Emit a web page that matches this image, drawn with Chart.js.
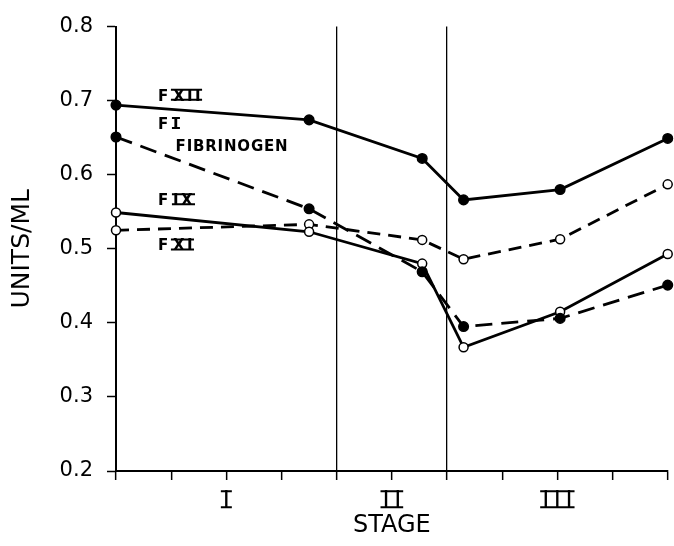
<!DOCTYPE html>
<html>
<head>
<meta charset="utf-8">
<title>Units/ml by stage</title>
<script src="https://cdn.jsdelivr.net/npm/chart.js@4.4.1/dist/chart.umd.min.js"></script>
<style>
  html, body { margin: 0; padding: 0; background: #fff; }
  #wrap { width: 674px; height: 546px; }
</style>
</head>
<body>
<div id="wrap"><canvas id="chart" width="674" height="546"></canvas></div>
<script>
// sampling points along the stage axis
const stageX = [0, 3.5, 5.55, 6.3, 8.05, 10];

// series values (units/ml)
const fxii = [0.694, 0.674, 0.622, 0.566, 0.580, 0.649];
const fibrinogen = [0.651, 0.554, 0.469, 0.395, 0.406, 0.451];
const fix = [0.549, 0.523, 0.480, 0.367, 0.415, 0.493];
const fxi = [0.525, 0.533, 0.512, 0.486, 0.513, 0.587];

// stage tick labels and where they sit on the x axis
const stageLabels = ['I', 'II', 'III'];
const stageAt = [2, 5, 8];
// stage boundaries
const stageBounds = [4, 6];

// y axis
const yTicks = [0.2, 0.3, 0.4, 0.5, 0.6, 0.7, 0.8];

// series name labels (data coordinates)
const noteText = ['F XII', 'F I', 'FIBRINOGEN', 'F IX', 'F XI'];
const noteX = [0.76, 0.76, 1.08, 0.76, 0.76];
const noteY = [0.705, 0.667, 0.637, 0.564, 0.503];

function toPoints(values) {
    return values.map((v, i) => ({ x: stageX[i], y: v }));
}

// draws text with roman numerals barred top and bottom
function drawRoman(ctx, text, x, y, spacing, ext) {
    ctx.letterSpacing = spacing + 'px';
    ctx.textAlign = 'left';
    ctx.textBaseline = 'middle';
    const m = ctx.measureText(text);
    ctx.fillText(text, x, y);
    const top = y - m.actualBoundingBoxAscent;
    const bot = y + m.actualBoundingBoxDescent;
    const left = x - m.actualBoundingBoxLeft - ext;
    const right = x + m.actualBoundingBoxRight + ext;
    ctx.beginPath();
    ctx.moveTo(left, top + ctx.lineWidth / 2);
    ctx.lineTo(right, top + ctx.lineWidth / 2);
    ctx.moveTo(left, bot - ctx.lineWidth / 2);
    ctx.lineTo(right, bot - ctx.lineWidth / 2);
    ctx.stroke();
    ctx.letterSpacing = '0px';
    return m;
}

const romanPlugin = {
    id: 'romanLabels',
    afterDraw(chart) {
        const ctx = chart.ctx;
        const xs = chart.scales.x;
        const ys = chart.scales.y;
        ctx.save();
        ctx.fillStyle = '#000';
        ctx.strokeStyle = '#000';

        // stage numerals under the axis
        ctx.font = '24px "DejaVu Sans"';
        ctx.lineWidth = 2;
        stageLabels.forEach((t, i) => {
            ctx.letterSpacing = '4.6px';
            const m = ctx.measureText(t);
            const w = m.actualBoundingBoxRight + m.actualBoundingBoxLeft;
            const cx = xs.getPixelForValue(stageAt[i]);
            drawRoman(ctx, t, cx - w / 2 + m.actualBoundingBoxLeft, xs.top + 31, 4.6, 4);
        });

        // series names
        ctx.font = 'bold 15px "DejaVu Sans"';
        noteText.forEach((t, i) => {
            const px = xs.getPixelForValue(noteX[i]);
            const py = ys.getPixelForValue(noteY[i]);
            const parts = t.split(' ');
            ctx.textAlign = 'left';
            ctx.textBaseline = 'middle';
            if (parts.length === 1) {
                ctx.letterSpacing = '0.8px';
                ctx.fillText(t, px, py);
                ctx.letterSpacing = '0px';
            } else {
                ctx.fillText(parts[0], px, py);
                ctx.lineWidth = 2;
                drawRoman(ctx, parts[1], px + 15, py, 2.5, 2);
            }
        });
        ctx.restore();
    }
};

const ctx = document.getElementById('chart').getContext('2d');
Chart.defaults.font.family = '"DejaVu Sans", sans-serif';
Chart.defaults.color = '#000';

const chart = new Chart(ctx, {
    type: 'line',
    data: {
        datasets: [
            {
                label: 'F XII',
                data: toPoints(fxii),
                borderColor: '#000',
                backgroundColor: '#000',
                borderWidth: 2.8,
                pointRadius: 4.8,
                pointBorderWidth: 1.5,
                pointBackgroundColor: '#000',
                clip: false
            },
            {
                label: 'F I Fibrinogen',
                data: toPoints(fibrinogen),
                borderColor: '#000',
                backgroundColor: '#000',
                borderWidth: 2.8,
                borderDash: [17, 9],
                pointRadius: 4.8,
                pointBorderWidth: 1.5,
                pointBackgroundColor: '#000',
                clip: false
            },
            {
                label: 'F IX',
                data: toPoints(fix),
                borderColor: '#000',
                backgroundColor: '#fff',
                borderWidth: 2.8,
                pointRadius: 4.5,
                pointBorderWidth: 1.5,
                pointBackgroundColor: '#fff',
                clip: false
            },
            {
                label: 'F XI',
                data: toPoints(fxi),
                borderColor: '#000',
                backgroundColor: '#fff',
                borderWidth: 2.8,
                borderDash: [13, 8],
                pointRadius: 4.5,
                pointBorderWidth: 1.5,
                pointBackgroundColor: '#fff',
                clip: false
            }
        ]
    },
    options: {
        responsive: false,
        animation: false,
        devicePixelRatio: 1,
        events: [],
        layout: { padding: { top: 22, right: 4, left: 0, bottom: 0 } },
        plugins: {
            legend: { display: false },
            tooltip: { enabled: false }
        },
        scales: {
            x: {
                type: 'linear',
                min: 0,
                max: 10,
                ticks: {
                    stepSize: 1,
                    callback: () => ''
                },
                grid: {
                    drawOnChartArea: true,
                    color: c => stageBounds.includes(c.tick && c.tick.value) ? '#000' : 'rgba(0,0,0,0)',
                    lineWidth: 1.3,
                    tickColor: '#000',
                    tickLength: 9,
                    tickWidth: 1.5
                },
                border: { color: '#000', width: 2 },
                title: {
                    display: true,
                    text: 'STAGE',
                    font: { size: 24 },
                    padding: { top: 0, bottom: 6 }
                },
                afterFit: s => { s.height = 75; }
            },
            y: {
                min: 0.2,
                max: 0.8,
                afterBuildTicks: s => { s.ticks = yTicks.map(v => ({ value: v })); },
                ticks: {
                    callback: v => v.toFixed(1),
                    font: { size: 21 },
                    padding: 14
                },
                grid: {
                    drawOnChartArea: false,
                    tickColor: '#000',
                    tickLength: 9,
                    tickWidth: 1.5
                },
                border: { color: '#000', width: 2 },
                title: {
                    display: true,
                    text: 'UNITS/ML',
                    font: { size: 25 },
                    padding: { top: 7, bottom: 0 }
                },
                afterFit: s => { s.width = 116; }
            }
        }
    },
    plugins: [romanPlugin]
});
</script>
</body>
</html>
